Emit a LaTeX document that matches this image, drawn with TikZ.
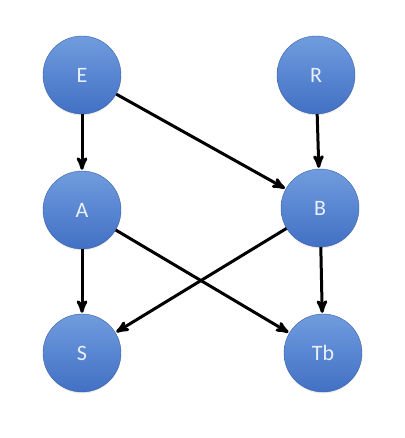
\documentclass[tikz,border=0pt]{standalone}
\usepackage{fontspec}
\setmainfont{Carlito}
\usetikzlibrary{
        arrows,
        positioning,
        shadows
    }
\definecolor{nodetop}{RGB}{112,156,222}
\definecolor{nodebot}{RGB}{66,112,196}
\tikzset{>=stealth',shorten >=1pt,auto,node distance=2cm}
\tikzset{var/.style={circle,minimum size=78pt,inner sep=0pt,
        top color=nodetop,bottom color=nodebot,draw=nodebot!85!black,line width=0.4pt,
        drop shadow={opacity=0.15,shadow xshift=0pt,shadow yshift=-1.5pt},
        font=\fontsize{22}{26}\selectfont,text=white!85!nodetop}}

\begin{document}
\begin{tikzpicture}[>=stealth',shorten >=1pt]
                \useasboundingbox (0,0) rectangle (404pt,-438pt);
                \node[var] (E) at (82pt,-75pt) {E};
                \node[var] (R)  [right of=E, node distance=234pt] {R};
                \node[var] (A)  [below of=E, node distance=135pt] {A};
                \node[var] (B)  [below of=R, node distance=133pt, xshift=4pt] {B};
                \node[var] (S)  [below of=A, node distance=143pt] {S};
                \node[var] (Tb) [right of=S, node distance=241pt] {Tb};
                \path[->,line width=3pt]
                    (E)  edge (A)
                    (E)  edge (B)
                    (R)  edge (B)
                    (A)  edge (S)
                    (A)  edge (Tb)
                    (B)  edge (S)
                    (B)  edge (Tb)
                    ;
            \end{tikzpicture}
\end{document}
